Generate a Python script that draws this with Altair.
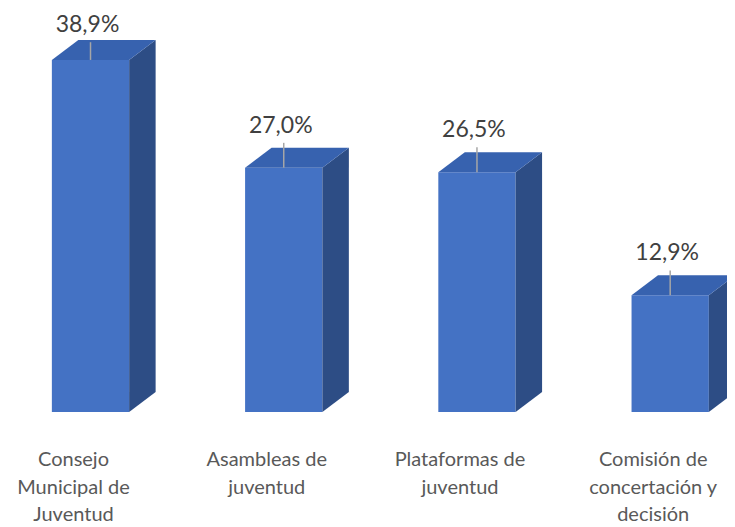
import altair as alt
import pandas as pd

categories = ["Consejo\nMunicipal de\nJuventud", "Asambleas de\njuventud",
              "Plataformas de\njuventud", "Comisión de\nconcertación y\ndecisión"]
values = [38.9, 27.0, 26.5, 12.9]

W, H = 719, 519
XDOM = [-0.427, 3.294]
YDOM = [-12.71, 44.64]
HALF = 0.2       # half front width (x units)
DX = 0.137       # depth offset x
DY = 2.21        # depth offset y
FRONT, TOP, SIDE = "#4472C4", "#3762AF", "#2D4D85"

xs = alt.Scale(domain=XDOM, nice=False, zero=False)
ys = alt.Scale(domain=YDOM, nice=False, zero=False)

front = pd.DataFrame({
    "cat": categories,
    "x0": [i - HALF for i in range(4)],
    "x1": [i + HALF for i in range(4)],
    "y0": [0.0] * 4,
    "y1": values,
})

side_rows, top_rows = [], []
for i, (c, v) in enumerate(zip(categories, values)):
    side_rows.append({"cat": c, "x": i + HALF, "y": v, "y2": 0.0})
    side_rows.append({"cat": c, "x": i + HALF + DX, "y": v + DY, "y2": DY})
    top_rows.append({"cat": c, "y": v, "x": i - HALF, "x2": i + HALF})
    top_rows.append({"cat": c, "y": v + DY, "x": i - HALF + DX, "x2": i + HALF + DX})
side = pd.DataFrame(side_rows)
top = pd.DataFrame(top_rows)

lab = pd.DataFrame({
    "cat": categories,
    "x": list(range(4)),
    "v": values,
    "ly": [min(v + 4.64, 42.76) for v in values],
    "txt": [f"{v:.1f}".replace(".", ",") + "%" for v in values],
})
lab["lt"] = lab["ly"] - 1.9

ax = dict(axis=None)

front_l = alt.Chart(front).mark_rect(color=FRONT).encode(
    x=alt.X("x0:Q", scale=xs, **ax), x2="x1",
    y=alt.Y("y0:Q", scale=ys, **ax), y2="y1")

side_l = alt.Chart(side).mark_area(color=SIDE).encode(
    x=alt.X("x:Q", scale=xs, **ax),
    y=alt.Y("y:Q", scale=ys, **ax), y2="y2",
    detail="cat:N")

top_l = alt.Chart(top).mark_area(color=TOP, orient="horizontal").encode(
    y=alt.Y("y:Q", scale=ys, **ax),
    x=alt.X("x:Q", scale=xs, **ax), x2="x2",
    detail="cat:N")

rule_l = alt.Chart(lab).mark_rule(color="#A6A6A6", strokeWidth=1.5).encode(
    x=alt.X("x:Q", scale=xs, **ax),
    y=alt.Y("lt:Q", scale=ys, **ax), y2="v")

val_l = alt.Chart(lab).mark_text(font="Lato", fontSize=23, color="#404040",
                                 baseline="middle", align="center", dx=-3).encode(
    x=alt.X("x:Q", scale=xs, **ax),
    y=alt.Y("ly:Q", scale=ys, **ax),
    text="txt:N")

cat_l = alt.Chart(lab).mark_text(font="Lato", fontSize=20, color="#595959",
                                 baseline="top", align="center", lineBreak="\n",
                                 lineHeight=27.5, dx=-17).encode(
    x=alt.X("x:Q", scale=xs, **ax),
    y=alt.value(442),
    text="cat:N")

chart = alt.layer(front_l, side_l, top_l, rule_l, val_l, cat_l).properties(
    width=W, height=H, padding=0,
    autosize=alt.AutoSizeParams(type="none"),
).configure_view(stroke=None)

chart.save("out.html", embed_options={"renderer": "svg", "actions": False})
